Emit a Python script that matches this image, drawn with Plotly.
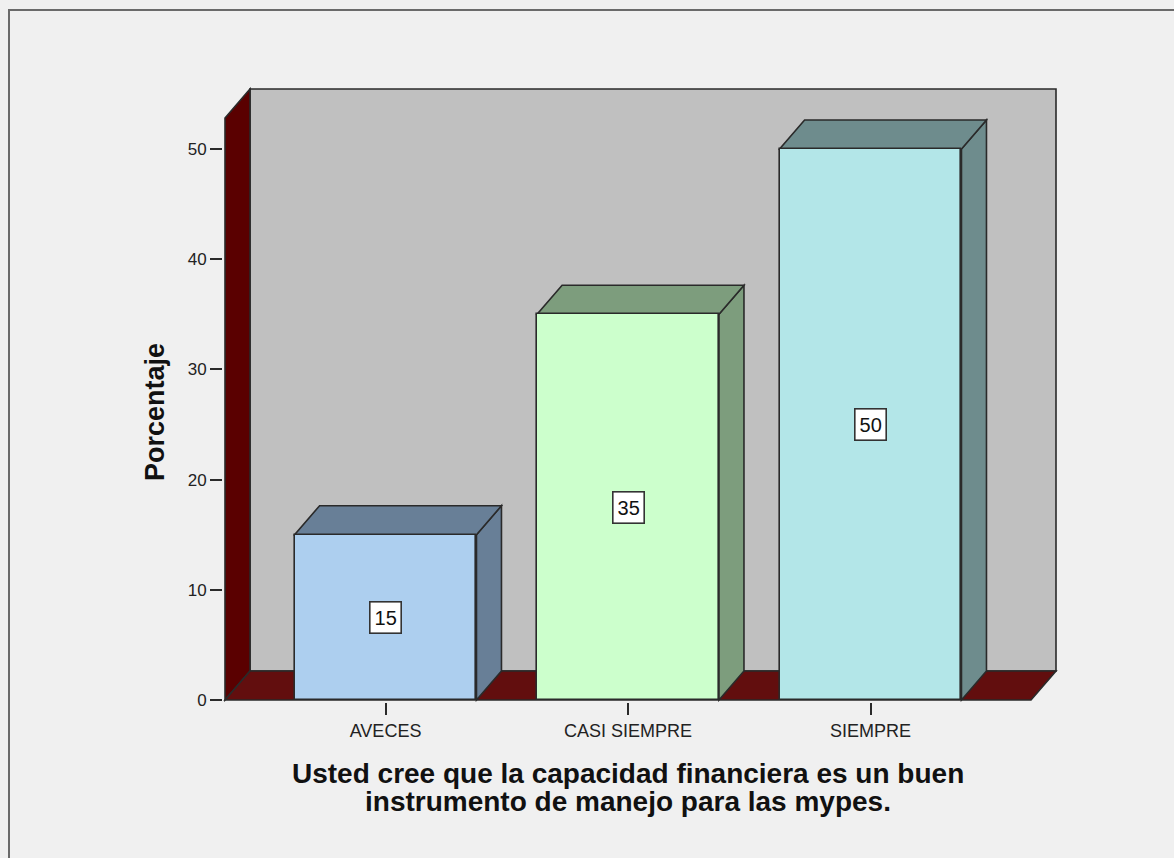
import plotly.graph_objects as go

# Data
categories = ["AVECES", "CASI SIEMPRE", "SIEMPRE"]
percentages = [15, 35, 50]
y_ticks = [0, 10, 20, 30, 40, 50]
y_title = "Porcentaje"
x_title_lines = ["Usted cree que la capacidad financiera es un buen",
                 "instrumento de manejo para las mypes."]

# Styling
front_colors = ["#ADCFEF", "#CCFFCC", "#B3E6E8"]
shade_colors = ["#687F97", "#7D9D7D", "#6E8C8D"]
wall_color = "#C0C0C0"
left_wall_color = "#5A0000"
floor_color = "#620E0E"
edge_color = "#2A2A2A"
bg_color = "#F0F0F0"
font_family = "Liberation Sans, Arial, sans-serif"

W, H = 1174, 858
BAR_W = 0.75

# Pixel geometry of the plotting box and scale factors
PX_X = 242.5          # pixels per category step
PX_Y = 11.02          # pixels per percentage point
X0_PX, Y0_PX = 225, 700   # pixel of front-left floor corner
X0 = -0.662           # x value at the front-left corner
L, R, T, B = 223, 1058, 87, 702

DX = 25 / PX_X        # 3D depth offset in x units
DY = 29 / PX_Y        # 3D depth offset in y units

x_min = X0 - (X0_PX - L) / PX_X
x_max = X0 + (R - X0_PX) / PX_X
y_min = -(B - Y0_PX) / PX_Y
y_max = (Y0_PX - T) / PX_Y
X_FRONT_R = x_max - (R - 1056) / PX_X - DX
Y_FRONT_T = y_max - (89 - T) / PX_Y - DY


def px_to_paper(px, py):
    return (px - L) / (R - L), (B - py) / (B - T)


def poly(points):
    return "M " + " L ".join(f"{x},{y}" for x, y in points) + " Z"


shapes = []

# Back wall
shapes.append(dict(type="path", xref="x", yref="y", layer="below",
                   path=poly([(X0 + DX, DY), (X_FRONT_R + DX, DY),
                              (X_FRONT_R + DX, Y_FRONT_T + DY), (X0 + DX, Y_FRONT_T + DY)]),
                   fillcolor=wall_color, line=dict(color=edge_color, width=1.6)))
# Left wall
shapes.append(dict(type="path", xref="x", yref="y", layer="below",
                   path=poly([(X0, 0), (X0, Y_FRONT_T), (X0 + DX, Y_FRONT_T + DY), (X0 + DX, DY)]),
                   fillcolor=left_wall_color, line=dict(color=edge_color, width=1.6)))
# Floor
shapes.append(dict(type="path", xref="x", yref="y", layer="below",
                   path=poly([(X0, 0), (X_FRONT_R, 0), (X_FRONT_R + DX, DY), (X0 + DX, DY)]),
                   fillcolor=floor_color, line=dict(color=edge_color, width=1.6)))

# Top and side faces of each bar
for i, v in enumerate(percentages):
    xl, xr = i - BAR_W / 2, i + BAR_W / 2
    shapes.append(dict(type="path", xref="x", yref="y", layer="below",
                       path=poly([(xr, 0), (xr + DX, DY), (xr + DX, v + DY), (xr, v)]),
                       fillcolor=shade_colors[i], line=dict(color=edge_color, width=1.6)))
    shapes.append(dict(type="path", xref="x", yref="y", layer="below",
                       path=poly([(xl, v), (xr, v), (xr + DX, v + DY), (xl + DX, v + DY)]),
                       fillcolor=shade_colors[i], line=dict(color=edge_color, width=1.6)))

# Outer frame
fx0, fy0 = px_to_paper(9, 10)
fx1, fy1 = px_to_paper(1190, 880)
shapes.append(dict(type="rect", xref="paper", yref="paper", layer="above",
                   x0=fx0, y0=fy1, x1=fx1, y1=fy0,
                   line=dict(color="#6A6A6A", width=2)))

fig = go.Figure()
fig.add_trace(go.Bar(
    x=list(range(len(categories))), y=percentages, width=BAR_W,
    marker=dict(color=front_colors, line=dict(color=edge_color, width=1.6)),
    hoverinfo="skip", showlegend=False,
))

annotations = []
for i, v in enumerate(percentages):
    annotations.append(dict(x=i, y=v / 2, xref="x", yref="y", text=str(v), showarrow=False,
                            xanchor="center", yanchor="middle",
                            font=dict(family=font_family, size=20, color="#111111"),
                            bgcolor="white", bordercolor="#333333", borderwidth=1.6, borderpad=4))

tx, ty = px_to_paper(155, 412)
annotations.append(dict(x=tx, y=ty, xref="paper", yref="paper", text=f"<b>{y_title}</b>",
                        textangle=-90, showarrow=False, xanchor="center", yanchor="middle",
                        font=dict(family=font_family, size=27, color="#111111")))
for k, line in enumerate(x_title_lines):
    lx, ly = px_to_paper(628, 773 + 28 * k)
    annotations.append(dict(x=lx, y=ly, xref="paper", yref="paper", text=f"<b>{line}</b>",
                            showarrow=False, xanchor="center", yanchor="middle",
                            font=dict(family=font_family, size=28, color="#111111")))

fig.update_layout(
    width=W, height=H,
    margin=dict(l=L, r=W - R, t=T, b=H - B, pad=0),
    paper_bgcolor=bg_color, plot_bgcolor="rgba(0,0,0,0)",
    bargap=0, shapes=shapes, annotations=annotations,
    font=dict(family=font_family, color="#222222"),
    xaxis=dict(range=[x_min, x_max], tickvals=list(range(len(categories))), ticktext=categories,
               ticks="outside", ticklen=12, tickwidth=1.6, tickcolor=edge_color,
               showgrid=False, zeroline=False, showline=False,
               tickfont=dict(size=18, color="#222222"), fixedrange=True),
    yaxis=dict(range=[y_min, y_max], tickvals=y_ticks,
               ticks="outside", ticklen=12, tickwidth=1.6, tickcolor=edge_color,
               showgrid=False, zeroline=False, showline=False,
               tickfont=dict(size=17, color="#222222"), fixedrange=True),
)

fig.write_html("out.html")
